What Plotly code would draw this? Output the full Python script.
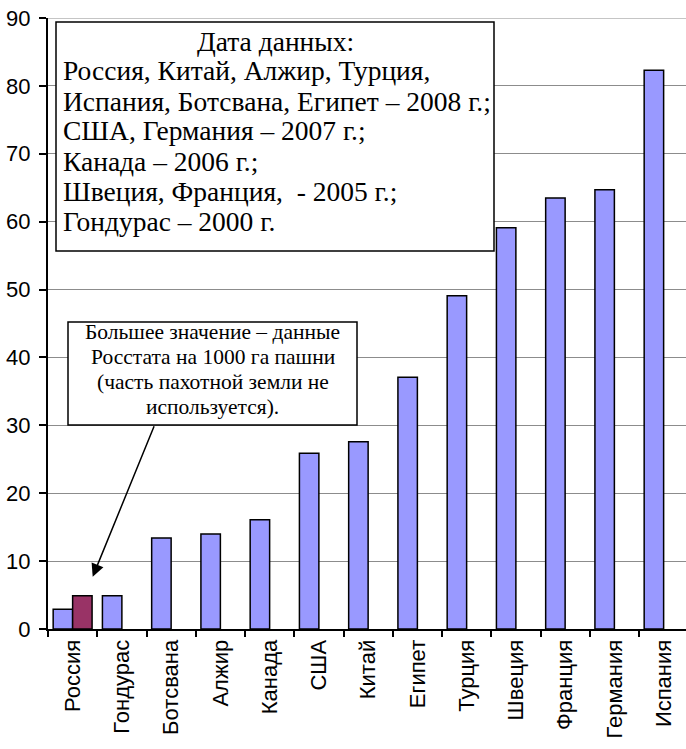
import plotly.graph_objects as go

categories = ["Россия", "Гондурас", "Ботсвана", "Алжир", "Канада", "США", "Китай",
              "Египет", "Турция", "Швеция", "Франция", "Германия", "Испания"]
values_main = [2.9, 4.9, 13.4, 14.0, 16.1, 25.9, 27.6, 37.1, 49.1, 59.1, 63.5, 64.7, 82.3]
values_rosstat = [4.9, None, None, None, None, None, None, None, None, None, None, None, None]
y_ticks = [0, 10, 20, 30, 40, 50, 60, 70, 80, 90]

box1_lines = [
    "Дата данных:",
    "Россия, Китай, Алжир, Турция,",
    "Испания, Ботсвана, Египет – 2008 г.;",
    "США, Германия – 2007 г.;",
    "Канада – 2006 г.;",
    "Швеция, Франция,  - 2005 г.;",
    "Гондурас – 2000 г.",
]
box2_lines = [
    "Большее значение – данные",
    "Росстата на 1000 га пашни",
    "(часть пахотной земли не",
    "используется).",
]

# the page body margin is removed (post_script below), so the figure fills the window
W, H = 686, 749
# plot area in screen pixels: x 48..686, y 18..629
ML, MR, MT, MB = 48, 0, 18, 749 - 629
PW, PH = W - ML - MR, H - MT - MB
CAT_W = 49.25


def px(x):
    return (x - ML) / PW


def py(y):
    return (H - MB - y) / PH


fig = go.Figure()
fig.add_trace(go.Bar(x=categories, y=values_main, marker=dict(color="#9999FF", line=dict(color="black", width=1.5)),
                     showlegend=False, hoverinfo="x+y"))
fig.add_trace(go.Bar(x=categories, y=values_rosstat, marker=dict(color="#993366", line=dict(color="black", width=1.5)),
                     showlegend=False, hoverinfo="x+y"))

serif = "Liberation Serif, Times New Roman, serif"
shapes = [
    dict(type="line", xref="paper", yref="y", x0=0, x1=1, y0=y_ticks[-1], y1=y_ticks[-1],
         line=dict(color="#8c8c8c", width=1), layer="below"),
    dict(type="rect", xref="paper", yref="paper", x0=px(56), x1=px(494), y0=py(251), y1=py(22),
         fillcolor="white", line=dict(color="black", width=1.5), layer="above"),
    dict(type="rect", xref="paper", yref="paper", x0=px(68), x1=px(357), y0=py(425), y1=py(322),
         fillcolor="white", line=dict(color="black", width=1.5), layer="above"),
]

annotations = []
box1_y = [41, 70, 101, 131, 161, 191, 221]
for i, (line, yy) in enumerate(zip(box1_lines, box1_y)):
    if i == 0:
        annotations.append(dict(text=line, xref="paper", yref="paper", x=px(275), y=py(yy),
                                xanchor="center", yanchor="middle", showarrow=False,
                                font=dict(family=serif, size=27.5, color="black")))
    else:
        annotations.append(dict(text=line, xref="paper", yref="paper", x=px(61), y=py(yy),
                                xanchor="left", yanchor="middle", showarrow=False,
                                font=dict(family=serif, size=27.5, color="black")))
box2_y = [332, 357, 382, 407]
for line, yy in zip(box2_lines, box2_y):
    annotations.append(dict(text=line, xref="paper", yref="paper", x=px(212.5), y=py(yy),
                            xanchor="center", yanchor="middle", showarrow=False,
                            font=dict(family=serif, size=21.5, color="black")))
annotations.append(dict(text="", xref="paper", yref="paper", x=px(92.7), y=py(576.7),
                        ax=62, ay=-152, showarrow=True, arrowhead=2, arrowsize=1.7,
                        arrowwidth=1.5, arrowcolor="black", standoff=0))

fig.update_layout(
    width=W, height=H,
    margin=dict(l=ML, r=MR, t=MT, b=MB, pad=0, autoexpand=False),
    paper_bgcolor="white", plot_bgcolor="white",
    barmode="group", bargap=0.21, bargroupgap=0,
    shapes=shapes, annotations=annotations,
    font=dict(family="Arial, Liberation Sans, sans-serif", size=22, color="black"),
)
fig.update_xaxes(type="category", range=[-0.5, -0.5 + PW / CAT_W], tickangle=-90, automargin=False,
                 ticks="outside", tickson="boundaries", ticklen=6, tickwidth=1.5, tickcolor="black",
                 showline=True, linecolor="black", linewidth=2, showgrid=False,
                 tickfont=dict(size=22))
fig.update_yaxes(range=[0, 90], tickvals=y_ticks, ticks="outside", ticklen=7, tickwidth=1.5, automargin=False,
                 ticklabelstandoff=4, ticklabeloverflow="allow",
                 tickcolor="black", showline=True, linecolor="black", linewidth=2,
                 showgrid=True, gridcolor="#8c8c8c", gridwidth=1, zeroline=False,
                 tickfont=dict(size=22))

fig.write_html("out.html", config={"displayModeBar": False},
               post_script="document.body.style.margin='0px';")
